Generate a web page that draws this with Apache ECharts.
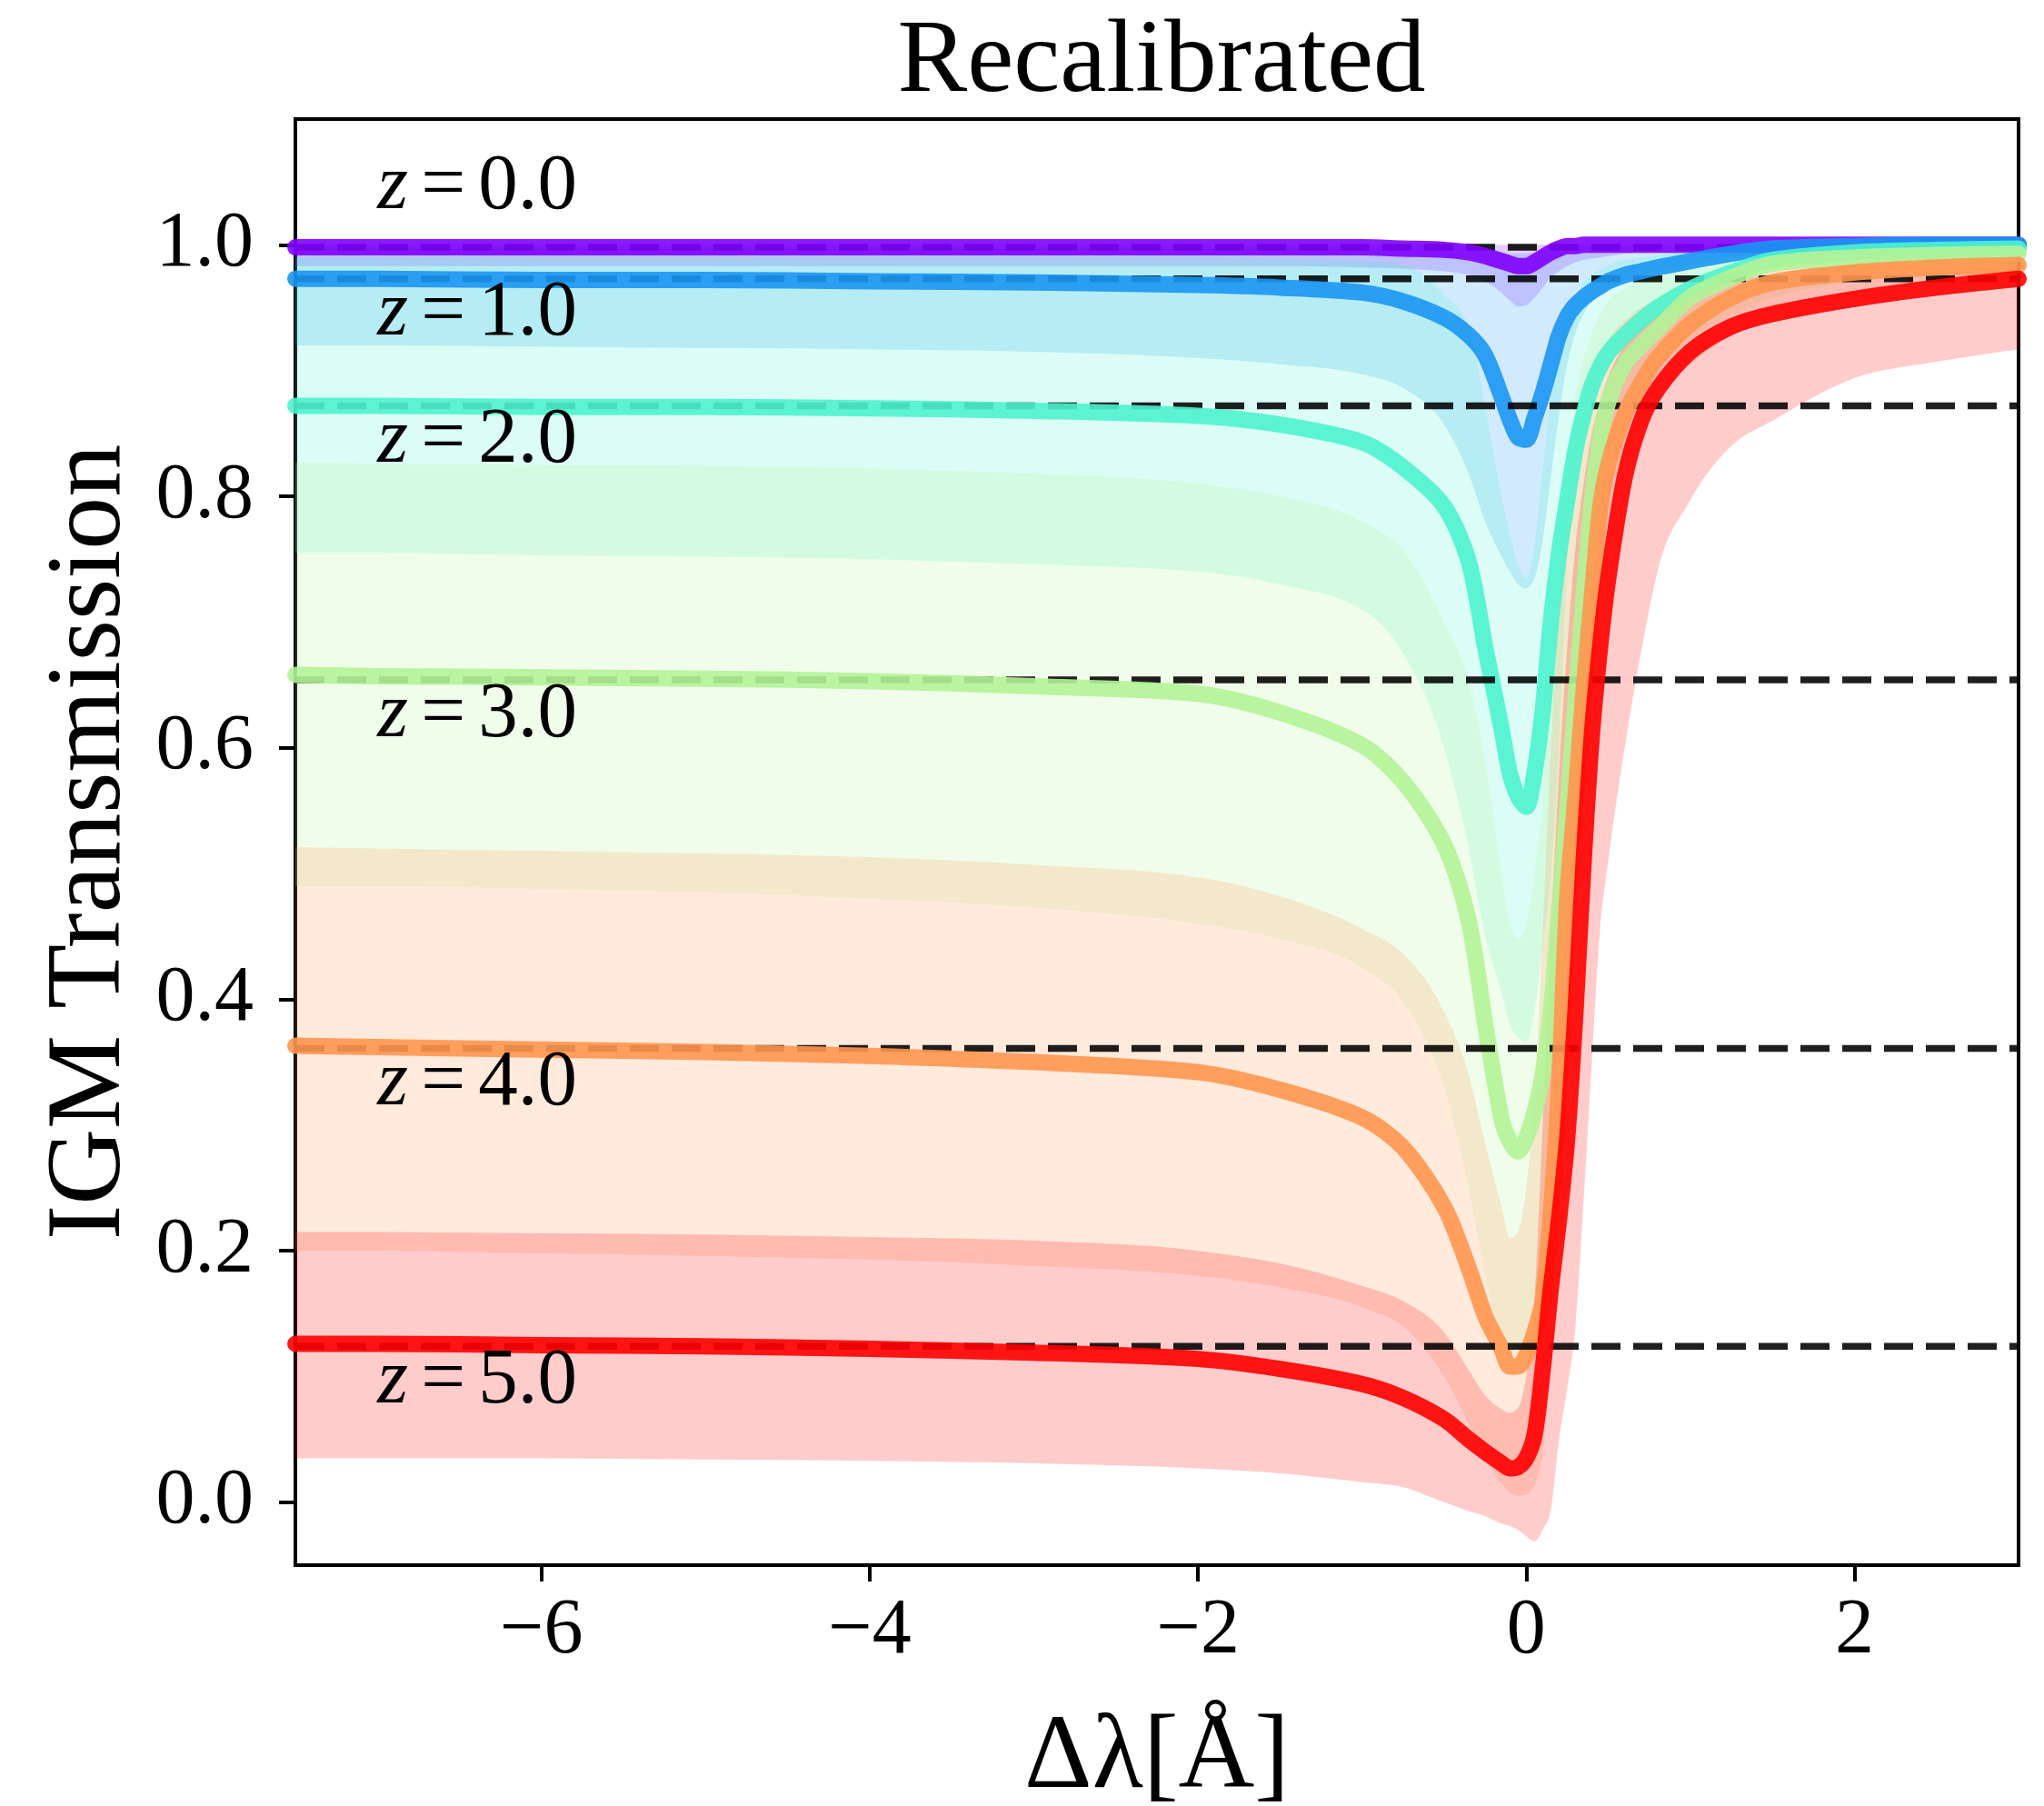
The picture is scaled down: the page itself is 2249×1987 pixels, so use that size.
<!DOCTYPE html>
<html><head><meta charset="utf-8">
<script src="https://cdn.jsdelivr.net/npm/echarts@6/dist/echarts.min.js"></script>
<style>html,body{margin:0;padding:0;background:#fff}#c{width:2249px;height:1987px}</style>
</head><body><div id="c"></div>
<script>
// ---- data ----
const X = [-7.5,-7,-6,-5,-4,-3,-2,-1.5,-1.0,-0.75,-0.5,-0.35,-0.25,-0.15,-0.1,-0.05,0.0,0.05,0.1,0.15,0.2,0.25,0.3,0.35,0.4,0.45,0.5,0.6,0.7,0.8,1.0,1.25,1.5,2.0,2.5,3.0];

const T0 = [0.998,0.998,0.998,0.998,0.998,0.998,0.998,0.998,0.998,0.997,0.996,0.994,0.991,0.987,0.985,0.983,0.983,0.986,0.99,0.994,0.997,0.999,0.999,1.0,1.0,1.0,1.0,1.0,1.0,1.0,1.0,1.0,1.0,1.0,1.0,1.0];
const L0 = [0.983,0.983,0.983,0.983,0.983,0.983,0.983,0.983,0.982,0.981,0.979,0.976,0.971,0.962,0.956,0.951,0.952,0.958,0.966,0.974,0.979,0.983,0.986,0.988,0.989,0.99,0.991,0.993,0.994,0.995,0.996,0.997,0.998,0.999,0.999,0.999];
const U0 = [1,1,1,1,1,1,1,1,1,1,1,1,1,1,1,1,1,1,1,1,1,1,1,1,1,1,1,1,1,1,1,1,1,1,1,1];

const T1 = [0.973,0.973,0.972,0.972,0.971,0.97,0.968,0.966,0.962,0.955,0.942,0.928,0.912,0.879,0.861,0.847,0.845,0.862,0.882,0.905,0.928,0.943,0.952,0.958,0.963,0.967,0.971,0.976,0.979,0.982,0.987,0.993,0.997,0.999,1.0,1.0];
const L1 = [0.92,0.92,0.919,0.918,0.917,0.915,0.91,0.905,0.897,0.886,0.857,0.818,0.78,0.752,0.74,0.73,0.727,0.735,0.765,0.815,0.865,0.905,0.93,0.945,0.955,0.96,0.965,0.972,0.976,0.979,0.984,0.99,0.994,0.997,0.998,0.998];
const U1 = [0.999,0.999,0.999,0.999,0.999,0.999,0.999,0.999,0.999,0.999,0.999,0.998,0.997,0.995,0.993,0.993,0.993,0.993,0.993,0.995,0.997,0.998,0.999,0.999,0.999,0.999,0.999,0.999,0.999,0.999,0.999,0.999,0.999,0.999,0.999,0.999];

const T2 = [0.872,0.872,0.871,0.871,0.87,0.868,0.864,0.857,0.843,0.823,0.792,0.748,0.68,0.615,0.58,0.561,0.553,0.58,0.629,0.7,0.755,0.797,0.837,0.865,0.888,0.903,0.914,0.928,0.94,0.95,0.965,0.978,0.988,0.994,0.996,0.997];
const L2 = [0.755,0.755,0.753,0.752,0.75,0.746,0.74,0.73,0.71,0.675,0.6,0.52,0.45,0.405,0.38,0.37,0.366,0.39,0.44,0.5,0.6,0.75,0.83,0.87,0.895,0.91,0.92,0.935,0.945,0.952,0.963,0.972,0.98,0.988,0.99,0.992];
const U2 = [0.99,0.99,0.99,0.99,0.99,0.99,0.99,0.989,0.987,0.984,0.96,0.935,0.87,0.8,0.77,0.745,0.735,0.76,0.82,0.88,0.92,0.945,0.96,0.97,0.976,0.98,0.984,0.988,0.99,0.992,0.995,0.997,0.998,0.999,0.999,0.999];

const T3 = [0.658,0.657,0.656,0.655,0.653,0.649,0.643,0.628,0.602,0.573,0.523,0.462,0.38,0.305,0.287,0.279,0.29,0.31,0.34,0.39,0.47,0.55,0.635,0.72,0.795,0.845,0.875,0.905,0.92,0.933,0.958,0.974,0.985,0.99,0.992,0.993];
const L3 = [0.49,0.49,0.488,0.485,0.48,0.473,0.46,0.448,0.425,0.398,0.33,0.25,0.18,0.13,0.12,0.118,0.13,0.16,0.22,0.3,0.38,0.46,0.55,0.64,0.72,0.78,0.82,0.86,0.885,0.9,0.925,0.945,0.958,0.97,0.978,0.983];
const U3 = [0.827,0.826,0.825,0.824,0.822,0.818,0.81,0.8,0.78,0.757,0.7,0.653,0.59,0.5,0.46,0.448,0.46,0.5,0.56,0.66,0.76,0.83,0.88,0.91,0.93,0.945,0.955,0.965,0.972,0.977,0.985,0.99,0.993,0.995,0.996,0.997];

const T4 = [0.363,0.362,0.36,0.358,0.355,0.35,0.342,0.328,0.306,0.282,0.235,0.186,0.148,0.122,0.108,0.108,0.117,0.135,0.16,0.23,0.33,0.48,0.56,0.645,0.72,0.79,0.825,0.865,0.89,0.91,0.937,0.958,0.97,0.978,0.982,0.984];
const L4 = [0.2,0.2,0.198,0.196,0.193,0.188,0.18,0.171,0.155,0.14,0.1,0.062,0.035,0.015,0.008,0.005,0.006,0.014,0.038,0.12,0.25,0.38,0.5,0.6,0.68,0.74,0.78,0.83,0.86,0.88,0.905,0.928,0.943,0.96,0.97,0.977];
const U4 = [0.521,0.52,0.518,0.516,0.513,0.507,0.497,0.482,0.456,0.436,0.39,0.34,0.285,0.235,0.21,0.215,0.25,0.32,0.45,0.6,0.72,0.8,0.85,0.88,0.9,0.915,0.925,0.94,0.95,0.957,0.967,0.977,0.983,0.989,0.992,0.994];

const T5 = [0.126,0.126,0.125,0.124,0.122,0.119,0.114,0.106,0.094,0.083,0.066,0.05,0.04,0.031,0.027,0.028,0.035,0.053,0.105,0.17,0.225,0.29,0.39,0.51,0.61,0.68,0.735,0.815,0.86,0.885,0.915,0.935,0.945,0.957,0.966,0.973];
const L5 = [0.035,0.035,0.035,0.034,0.033,0.031,0.027,0.023,0.016,0.012,0.0,-0.007,-0.011,-0.017,-0.019,-0.022,-0.027,-0.031,-0.022,-0.006,0.05,0.09,0.14,0.24,0.35,0.455,0.51,0.6,0.676,0.74,0.797,0.84,0.86,0.894,0.907,0.917];
const U5 = [0.215,0.215,0.214,0.213,0.211,0.208,0.2,0.19,0.172,0.16,0.135,0.105,0.085,0.074,0.071,0.075,0.1,0.16,0.3,0.45,0.58,0.68,0.76,0.81,0.85,0.875,0.895,0.92,0.935,0.945,0.96,0.97,0.977,0.985,0.99,0.993];

const DASH = [0.998, 0.973, 0.872, 0.654, 0.361, 0.124];
const Z_TEXT = ['0.0','1.0','2.0','3.0','4.0','5.0'];
const LABEL_X = -7.0;
const LABEL_Y = [1.046, 0.945, 0.844, 0.626, 0.333, 0.096];
const X_TICKS = [-6,-4,-2,0,2];
const Y_TICKS = [0,0.2,0.4,0.6,0.8,1.0];
const X_RANGE = [-7.5, 3.0];
const Y_RANGE = [-0.05, 1.1];

// ---- style ----
const COLORS = ['#8000ff','#1a96f3','#4df3ce','#b3f396','#ff964f','#ff0000'];
const LINES = [T0,T1,T2,T3,T4,T5];
const LOWERS = [L0,L1,L2,L3,L4,L5];
const UPPERS = [U0,U1,U2,U3,U4,U5];
const FONT = 'Liberation Serif';

// monotone cubic (x-monotone) path segments through pixel points
function monoSegs(p) {
  const n = p.length;
  const t = new Array(n).fill(0);
  const sgn = (v) => v < 0 ? -1 : (v > 0 ? 1 : 0);
  const s = [];
  for (let k = 0; k < n - 1; k++) s.push((p[k+1][1] - p[k][1]) / (p[k+1][0] - p[k][0]));
  t[0] = s[0]; t[n-1] = s[n-2];
  for (let k = 1; k < n - 1; k++) {
    const h0 = p[k][0] - p[k-1][0], h1 = p[k+1][0] - p[k][0];
    const q = (s[k-1] * h1 + s[k] * h0) / (h0 + h1);
    t[k] = (sgn(s[k-1]) + sgn(s[k])) * Math.min(Math.abs(s[k-1]), Math.abs(s[k]), 0.5 * Math.abs(q)) || 0;
  }
  let d = '';
  for (let k = 0; k < n - 1; k++) {
    const dx = (p[k+1][0] - p[k][0]) / 3;
    d += ' C' + (p[k][0] + dx) + ',' + (p[k][1] + dx * t[k]) + ' ' + (p[k+1][0] - dx) + ',' + (p[k+1][1] - dx * t[k+1]) + ' ' + p[k+1][0] + ',' + p[k+1][1];
  }
  return d;
}

const chart = echarts.init(document.getElementById('c'), null, {renderer:'canvas', width:2249, height:1987});
const series = [];

LOWERS.forEach((lo, i) => {
  series.push({
    type: 'custom', name: 'band' + i, z: 2, silent: true, clip: true,
    data: [[X[0], lo[0]]],
    renderItem: (params, api) => {
      const up = UPPERS[i].map((v, k) => api.coord([X[k], v]));
      const dn = lo.map((v, k) => api.coord([X[k], v])).reverse();
      const d = 'M' + up[0][0] + ',' + up[0][1] + monoSegs(up) + ' L' + dn[0][0] + ',' + dn[0][1] + monoSegs(dn) + ' Z';
      return { type: 'path', shape: { pathData: d }, style: { fill: COLORS[i], opacity: 0.2 } };
    }
  });
});

LINES.forEach((t, i) => {
  series.push({
    type: 'line', name: 'ref' + i, z: 3 + 2 * i, silent: true, symbol: 'none',
    data: [[X_RANGE[0], DASH[i]], [X_RANGE[1], DASH[i]]],
    lineStyle: { color: 'rgba(0,0,0,0.88)', width: 7.5, type: [32, 14], cap: 'butt' }
  });
  series.push({
    type: 'line', name: 'z' + i, z: 4 + 2 * i, silent: true, symbol: 'none',
    smooth: 0.3,
    data: X.map((x, k) => [x, t[k]]),
    lineStyle: { color: COLORS[i], width: 18, opacity: 0.9, cap: 'round', join: 'round' }
  });
});

series.push({
  type: 'scatter', name: 'labels', z: 30, silent: true, symbolSize: 0,
  itemStyle: { opacity: 1 },
  data: LABEL_Y.map((y, i) => ({ value: [LABEL_X, y], txt: Z_TEXT[i] })),
  label: {
    show: true, position: 'right', distance: 0, color: '#000', opacity: 1,
    formatter: (p) => '{i|z}{e|=}{n|' + p.data.txt + '}',
    rich: {
      i: { fontFamily: FONT, fontStyle: 'italic', fontSize: 87, color: '#000' },
      e: { fontFamily: FONT, fontSize: 87, color: '#000', padding: [0, 14, 0, 14] },
      n: { fontFamily: FONT, fontSize: 87, color: '#000' }
    }
  }
});

const fmtX = (v) => v < 0 ? '\u2212' + Math.abs(v) : String(v);

chart.setOption({
  animation: false,
  backgroundColor: '#fff',
  title: {
    text: 'Recalibrated', left: 1273, top: 7, textAlign: 'center',
    textStyle: { fontFamily: FONT, fontSize: 115, fontWeight: 'normal', color: '#000' }
  },
  grid: { left: 325, right: 28, top: 131, bottom: 265, outerBoundsMode: 'none', containLabel: false,
          show: true, borderColor: '#000', borderWidth: 4, backgroundColor: 'transparent' },
  xAxis: {
    type: 'value', min: X_RANGE[0], max: X_RANGE[1],
    axisLine: { show: true, onZero: false, lineStyle: { color: '#000', width: 4 } },
    axisTick: { show: true, customValues: X_TICKS, length: 18, lineStyle: { color: '#000', width: 4 } },
    axisLabel: { customValues: X_TICKS, formatter: fmtX, fontFamily: FONT, fontSize: 86, color: '#000', margin: 30 },
    splitLine: { show: false },
    name: 'Δλ[Å]', nameLocation: 'middle', nameGap: 156,
    nameTextStyle: { fontFamily: FONT, fontSize: 116, color: '#000' }
  },
  yAxis: {
    type: 'value', min: Y_RANGE[0], max: Y_RANGE[1],
    axisLine: { show: true, onZero: false, lineStyle: { color: '#000', width: 4 } },
    axisTick: { show: true, customValues: Y_TICKS, length: 18, lineStyle: { color: '#000', width: 4 } },
    axisLabel: { customValues: Y_TICKS, formatter: (v) => v.toFixed(1), fontFamily: FONT, fontSize: 86, color: '#000', margin: 46 },
    splitLine: { show: false },
    name: 'IGM Transmission', nameLocation: 'middle', nameGap: 166, nameRotate: 90,
    nameTextStyle: { fontFamily: FONT, fontSize: 116, color: '#000' }
  },
  series: series
});
</script></body></html>
